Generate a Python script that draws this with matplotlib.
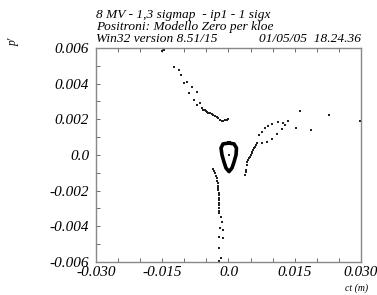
import numpy as np
import matplotlib.pyplot as plt

plt.rcParams['font.family'] = ['Liberation Serif', 'DejaVu Serif']
plt.rcParams['font.style'] = 'italic'

# two lone points near the top edge
top_x = [-0.01506, -0.01460]
top_y = [0.00583, 0.00589]

# upper-left branch, ends in a small hook at y ~ 0.002
ul_x = [-0.01234, -0.01127, -0.01069, -0.01007, -0.00933, -0.00833, -0.00887,
        -0.00720, -0.00788, -0.00645, -0.00706, -0.00600, -0.00570, -0.00540,
        -0.00509, -0.00480, -0.00457, -0.00420, -0.00380, -0.00345, -0.00306,
        -0.00270, -0.00231, -0.00190, -0.00154, -0.00115, -0.00079, -0.00040,
        -0.00005]
ul_y = [0.00492, 0.00477, 0.00447, 0.00405, 0.00411, 0.00383, 0.00349,
        0.00352, 0.00308, 0.00290, 0.00279, 0.00262, 0.00252, 0.00250,
        0.00248, 0.00243, 0.00237, 0.00234, 0.00230, 0.00225, 0.00219,
        0.00213, 0.00206, 0.00199, 0.00192, 0.00193, 0.00196, 0.00199,
        0.00202]

# central closed loop
loop_x = [0.00011, 0.00125, 0.00181, 0.00170, 0.00125, 0.00079, 0.00011,
          -0.00057, -0.00102, -0.00147, -0.00170, -0.00125, 0.00011]
loop_y = [0.00067, 0.00062, 0.00039, 0.00000, -0.00039, -0.00073, -0.00093,
          -0.00073, -0.00039, 0.00000, 0.00039, 0.00062, 0.00067]
centre_x = [0.0002]
centre_y = [0.0]

# lower branch going down to the bottom edge
lo_x = [-0.00344, -0.00325, -0.00306, -0.00287, -0.00267, -0.00252, -0.00238,
        -0.00234, -0.00231, -0.00228, -0.00224, -0.00222, -0.00220, -0.00218,
        -0.00215, -0.00213, -0.00211, -0.00209, -0.00208, -0.00177, -0.00154,
        -0.00192, -0.00118, -0.00215, -0.00118, -0.00208, -0.00177, -0.00208]
lo_y = [-0.00080, -0.00091, -0.00103, -0.00117, -0.00131, -0.00145, -0.00159,
        -0.00172, -0.00185, -0.00199, -0.00213, -0.00227, -0.00241, -0.00255,
        -0.00269, -0.00283, -0.00297, -0.00312, -0.00327, -0.00346, -0.00374,
        -0.00411, -0.00421, -0.00458, -0.00467, -0.00523, -0.00579, -0.00594]

# right branch, splits in two then scatters out
rt_x = [0.00374, 0.00385, 0.00396, 0.00412, 0.00430, 0.00448, 0.00467, 0.00487,
        0.00505, 0.00525, 0.00543, 0.00561, 0.00580, 0.00600, 0.00620, 0.00638,
        0.00697, 0.00752, 0.00826, 0.00901, 0.00992, 0.01127, 0.01241, 0.01354,
        0.00752, 0.00865, 0.00978, 0.01091, 0.01204, 0.01279,
        0.01521, 0.01612, 0.01868, 0.02282, 0.02970]
rt_y = [-0.00112, -0.00098, -0.00084, -0.00056, -0.00042, -0.00028, -0.00019, -0.00010,
        0.00000, 0.00010, 0.00019, 0.00028, 0.00037, 0.00047, 0.00056, 0.00066,
        0.00112, 0.00131, 0.00150, 0.00163, 0.00174, 0.00183, 0.00178, 0.00191,
        0.00069, 0.00075, 0.00088, 0.00116, 0.00146, 0.00168,
        0.00150, 0.00245, 0.00140, 0.00223, 0.00191]

xticks = [-0.030, -0.015, 0.0, 0.015, 0.030]
xlabels = ['-0.030', '-0.015', '0.0', '0.015', '0.030']
yticks = [-0.006, -0.004, -0.002, 0.0, 0.002, 0.004, 0.006]
ylabels = ['-0.006', '-0.004', '-0.002', '0.0', '0.002', '0.004', '0.006']

fig = plt.figure(figsize=(3.77, 2.95), dpi=100)
ax = fig.add_axes([0.2546, 0.1119, 0.703, 0.7254])

dot = dict(ls='none', marker='s', ms=1.6, color='#222222', mew=0)
ax.plot(top_x, top_y, **dot)
ax.plot(ul_x, ul_y, **dot)
ax.plot(lo_x, lo_y, **dot)
ax.plot(rt_x, rt_y, **dot)
ax.plot(loop_x, loop_y, color='black', lw=2.6)
ax.plot(centre_x, centre_y, **dot)

ax.set_xlim(-0.030, 0.030)
ax.set_ylim(-0.006, 0.006)
ax.set_xticks(xticks)
ax.set_xticklabels(xlabels)
ax.set_yticks(yticks)
ax.set_yticklabels(ylabels)
ax.set_xticks(np.arange(-0.030, 0.0301, 0.005), minor=True)
ax.set_yticks(np.arange(-0.006, 0.0061, 0.001), minor=True)
ax.tick_params(which='both', direction='in', top=True, right=False,
               length=3, width=0.6, color='#555555', labelsize=11)
ax.tick_params(axis='x', pad=3)
ax.tick_params(axis='y', pad=5)
for s in ax.spines.values():
    s.set_color('#888888')
    s.set_linewidth(1.0)

fig.text(96/377, 1-15/295, '8 MV - 1,3 sigmap  - ip1 - 1 sigx', fontsize=9.6, va='center')
fig.text(96/377, 1-27/295, 'Positroni: Modello Zero per kloe', fontsize=9.6, va='center')
fig.text(96/377, 1-39/295, 'Win32 version 8.51/15', fontsize=9.6, va='center')
fig.text(361/377, 1-39/295, '01/05/05  18.24.36', fontsize=9.6, va='center', ha='right')
fig.text(14/377, 1-42/295, "p'", fontsize=8.5, rotation=90, ha='center', va='center')
fig.text(357/377, 1-288/295, 'ct (m)', fontsize=7, ha='center', va='center')

fig.savefig('out.png', dpi=100)
